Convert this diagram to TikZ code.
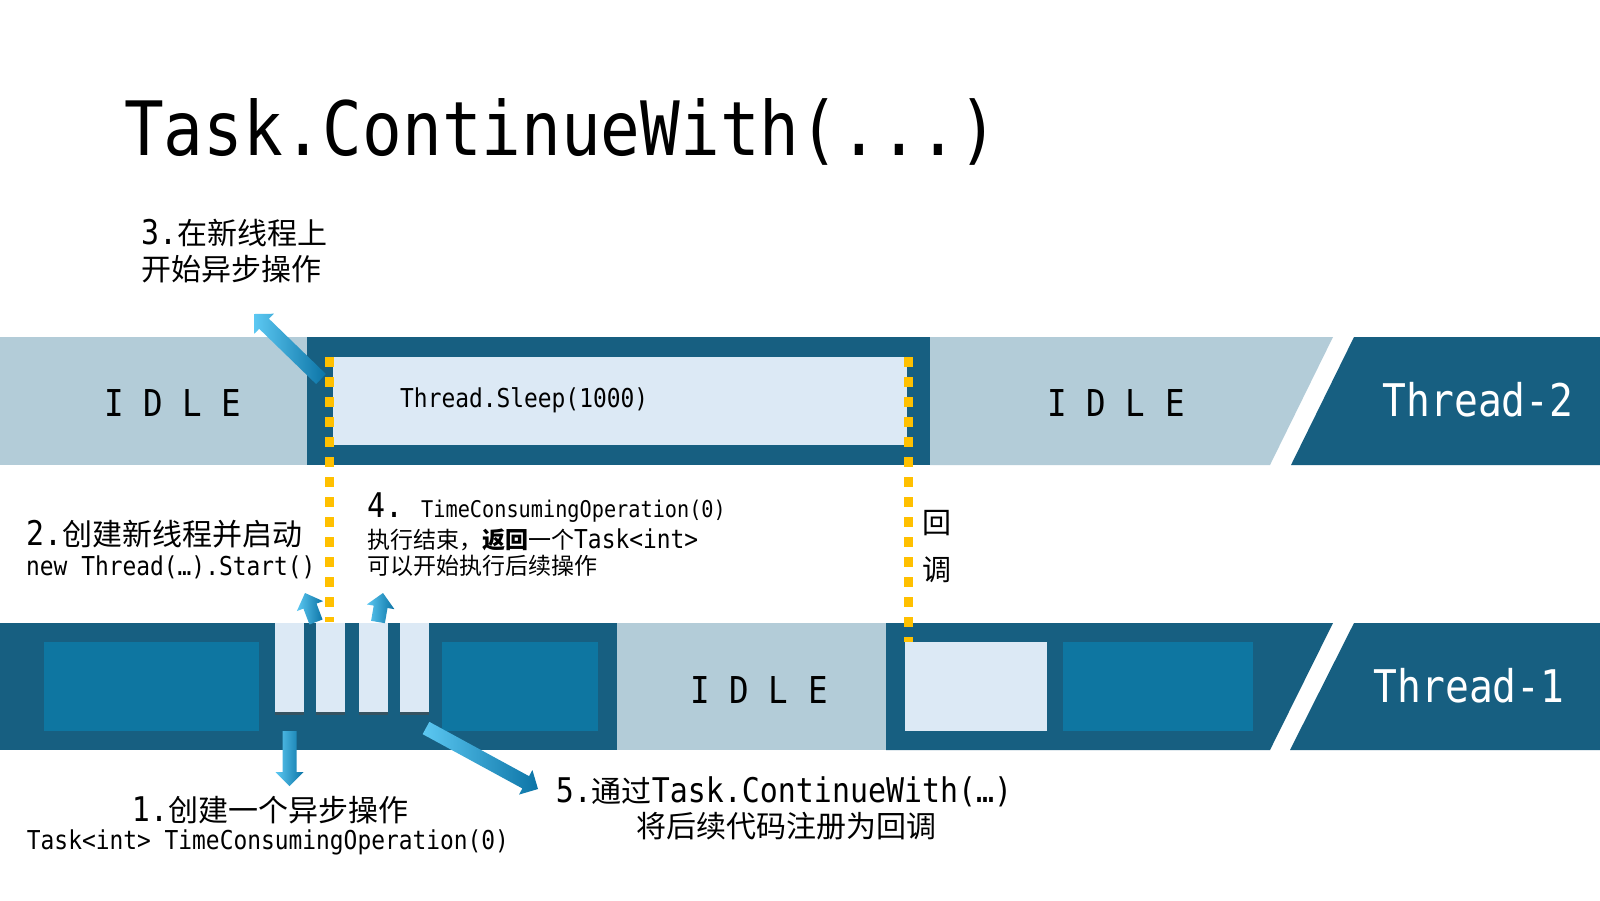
\documentclass[tikz,border=0pt]{standalone}
\usepackage{fontspec}
\setmonofont[FakeStretch=0.88]{DejaVu Sans Mono}
\newfontfamily\cjk{Noto Sans CJK SC}
\usepackage{tikz}
\usetikzlibrary{arrows.meta,calc,shadows}

\definecolor{banddark}{HTML}{175F81}
\definecolor{idlegray}{HTML}{B3CCD8}
\definecolor{worklight}{HTML}{DCE9F5}
\definecolor{workmid}{HTML}{0E76A1}
\definecolor{cbyellow}{HTML}{FFC000}
\definecolor{arrowlight}{HTML}{5CC8F2}
\definecolor{arrowdark}{HTML}{0C74A6}

\newcommand\zh[2]{{\cjk\fontsize{#1}{#1}\selectfont #2}}
\newcommand\code[2]{{\ttfamily\fontsize{#1}{#1}\selectfont #2}}

% fat shaded arrow from tail #1 to tip #2
\newcommand\flowarrow[2]{%
  \path let \p1=(#1), \p2=(#2) in \pgfextra{%
    \pgfmathsetmacro\faang{atan2(\y2-\y1,\x2-\x1)}%
    \pgfmathsetmacro\falen{veclen(\x2-\x1,\y2-\y1)}%
    \xdef\faang{\faang}\xdef\falen{\falen}%
    \xdef\fax{\x1}\xdef\fay{\y1}};
  \shade[left color=arrowlight, right color=arrowdark, shift={(\fax,\fay)}, rotate=\faang]
    (0pt,-7pt) -- ({\falen pt-14pt},-7pt) -- ({\falen pt-14pt},-14pt) -- (\falen pt,0pt)
    -- ({\falen pt-14pt},14pt) -- ({\falen pt-14pt},7pt) -- (0pt,7pt) -- cycle;
}

\begin{document}
\begin{tikzpicture}[x=1pt, y=-1pt,
  idletext/.style={inner sep=0, font=\ttfamily\fontsize{37}{37}\selectfont},
  threadname/.style={inner sep=0, text=white, font=\ttfamily\fontsize{45}{45}\selectfont},
  label/.style={inner sep=0, anchor=west},
  stackbar/.style={fill=worklight, minimum width=29pt, minimum height=89pt, inner sep=0,
    anchor=north west, drop shadow={shadow xshift=0pt, shadow yshift=-3pt, opacity=0.6, fill=black!70}},
  callback/.style={draw=cbyellow, line width=9pt, dash pattern=on 10pt off 10pt}]

  \fill[white] (0,0) rectangle (1600,900);
  \useasboundingbox (0,0) rectangle (1600,900);

  % Title
  \node[anchor=base west, inner sep=0, font=\ttfamily\fontsize{75}{75}\selectfont] (title) at (124,155) {Task.ContinueWith(...)};

  % Thread-2 band
  \fill[idlegray] (0,337) rectangle (307,465);
  \fill[banddark] (307,337) rectangle (930,465);
  \fill[worklight] (333,357) rectangle (907,445);
  \fill[idlegray] (930,337) -- (1333,337) -- (1270,465) -- (930,465) -- cycle;
  \fill[banddark] (1354,337) -- (1600,337) -- (1600,465) -- (1291,465) -- cycle;

  % Thread-1 band
  \fill[banddark] (0,623) rectangle (617,750);
  \fill[workmid] (44,642) rectangle (259,731);
  \fill[workmid] (442,642) rectangle (598,731);
  \fill[idlegray] (617,623) rectangle (886,750);
  \fill[banddark] (886,623) -- (1333,623) -- (1270,750) -- (886,750) -- cycle;
  \fill[worklight] (905,642) rectangle (1047,731);
  \fill[workmid] (1063,642) rectangle (1253,731);
  \fill[banddark] (1354,623) -- (1600,623) -- (1600,750) -- (1290,750) -- cycle;

  % Callback guide lines
  \draw[callback] (329,357) -- (329,622);
  \draw[callback] (908,357) -- (908,642);

  % Short calls on thread-1
  \foreach \bx [count=\i] in {275,316,359,400}
    \node[stackbar] (bar\i) at (\bx,623) {};

  % Band texts
  \node[idletext] (idle2a) at (173,403) {I D L E};
  \node[idletext] (idle2b) at (1116,403) {I D L E};
  \node[idletext] (idle1) at (759,690) {I D L E};
  \node[threadname] (thread2) at (1478,400) {Thread-2};
  \node[threadname] (thread1) at (1469,686) {Thread-1};
  \node[label] (sleep) at (400,400) {\code{26}{Thread.Sleep(1000)}};

  % Step labels
  \node[label] (step3a) at (141,233) {\code{34}{3.}\zh{30}{在新线程上}};
  \node[label] (step3b) at (141,269) {\zh{30}{开始异步操作}};
  \node[label] (step2a) at (26,534) {\code{34}{2.}\zh{30}{创建新线程并启动}};
  \node[label] (step2b) at (26,567) {\code{26}{new Thread(…).Start()}};
  \node[label] (step4a) at (367,508) {\code{34}{4. }\code{23}{TimeConsumingOperation(0)}};
  \node[label] (step4b) at (367,540) {\zh{23}{执行结束，\textbf{返回}一个}\code{26}{Task<int>}};
  \node[label] (step4c) at (367,566) {\zh{23}{可以开始执行后续操作}};
  \node[inner sep=0] (cb1) at (937,523) {\zh{29}{回}};
  \node[inner sep=0] (cb2) at (937,570) {\zh{29}{调}};
  \node[inner sep=0] (step1a) at (270,810) {\code{34}{1.}\zh{30}{创建一个异步操作}};
  \node[inner sep=0] (step1b) at (268,842) {\code{26}{Task<int> TimeConsumingOperation(0)}};
  \node[inner sep=0] (step5a) at (784,792) {\code{34}{5.}\zh{30}{通过}\code{34}{Task.ContinueWith(…)}};
  \node[inner sep=0] (step5b) at (786,826) {\zh{30}{将后续代码注册为回调}};

  % Arrows
  \coordinate (a1s) at (289.5,731); \coordinate (a1e) at (289.5,786);
  \coordinate (a2s) at (316,622);   \coordinate (a2e) at (305,593);
  \coordinate (a3s) at (321,379);   \coordinate (a3e) at (254,314);
  \coordinate (a4s) at (378,622);   \coordinate (a4e) at (383,593);
  \coordinate (a5s) at (426,728);   \coordinate (a5e) at (538,789);
  \flowarrow{a1s}{a1e}
  \flowarrow{a2s}{a2e}
  \flowarrow{a3s}{a3e}
  \flowarrow{a4s}{a4e}
  \flowarrow{a5s}{a5e}
\end{tikzpicture}
\end{document}
